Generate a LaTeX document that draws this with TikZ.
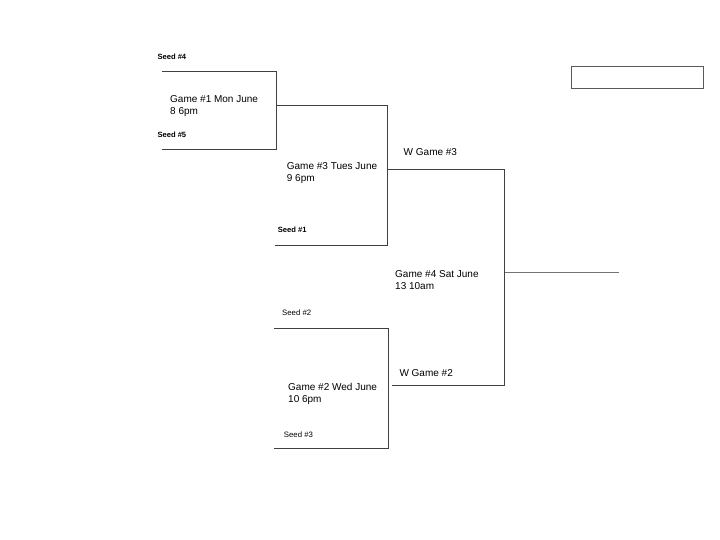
\documentclass[tikz,border=0pt]{standalone}
\usepackage{fontspec}
\setmainfont{Liberation Sans}
\begin{document}
\begin{tikzpicture}[x=1pt,y=-1pt,
  bline/.style={draw=black!75,line width=1pt},
  gametext/.style={anchor=north west,inner sep=0pt,align=left,font=\fontsize{10}{12}\selectfont},
  wtext/.style={anchor=base west,inner sep=0pt,font=\fontsize{10}{12}\selectfont},
  seedbold/.style={anchor=base west,inner sep=0pt,font=\fontsize{7.6}{9}\selectfont\bfseries},
  seedreg/.style={anchor=base west,inner sep=0pt,font=\fontsize{7.8}{9}\selectfont}]
\useasboundingbox (0,0) rectangle (720,540);
% coordinates
\coordinate (g1a) at (162,72);
\coordinate (g1b) at (276,72);
\coordinate (g1c) at (276,150);
\coordinate (g1d) at (162,150);
\coordinate (g1m) at (276,106);
\coordinate (g3a) at (387.5,106);
\coordinate (g3b) at (387.5,245.5);
\coordinate (g3c) at (275,245.5);
\coordinate (g3m) at (387.5,169.5);
\coordinate (g4a) at (504.5,169.5);
\coordinate (g4b) at (504.5,385.5);
\coordinate (g4c) at (392,385.5);
\coordinate (g4m) at (504.5,272.5);
\coordinate (fin) at (618.5,272.5);
\coordinate (g2a) at (274,328.5);
\coordinate (g2b) at (388.5,328.5);
\coordinate (g2c) at (388.5,448.5);
\coordinate (g2d) at (274,448.5);
% lines
\draw[bline] (g1a) -- (g1b) -- (g1c) -- (g1d);
\draw[bline] (g1m) -- (g3a) -- (g3b) -- (g3c);
\draw[bline] (g3m) -- (g4a) -- (g4b) -- (g4c);
\draw[draw=black!55,line width=1pt] (g4m) -- (fin);
\draw[bline] (g2a) -- (g2b) -- (g2c) -- (g2d);
% box
\node[draw=black!65,line width=1pt,minimum width=132pt,minimum height=22pt,inner sep=0pt,anchor=north west] (box) at (570.5,66.5) {};
% texts
\node[seedbold] (s4) at (157.3,59.7) {Seed \#4};
\node[gametext] (t1) at (170,95.7) {Game \#1 Mon June\\8 6pm};
\node[seedbold] (s5) at (157.3,137.3) {Seed \#5};
\node[wtext] (w3) at (403.5,156) {W Game \#3};
\node[gametext] (t3) at (286.7,162.3) {Game \#3 Tues June\\9 6pm};
\node[seedbold] (s1) at (277.7,233) {Seed \#1};
\node[gametext] (t4) at (395,270) {Game \#4 Sat June\\13 10am};
\node[seedreg] (s2) at (282,315.7) {Seed \#2};
\node[wtext] (w2) at (399.3,376) {W Game \#2};
\node[gametext] (t2) at (288,382.7) {Game \#2 Wed June\\10 6pm};
\node[seedreg] (s3) at (283.7,437.3) {Seed \#3};
\end{tikzpicture}
\end{document}
